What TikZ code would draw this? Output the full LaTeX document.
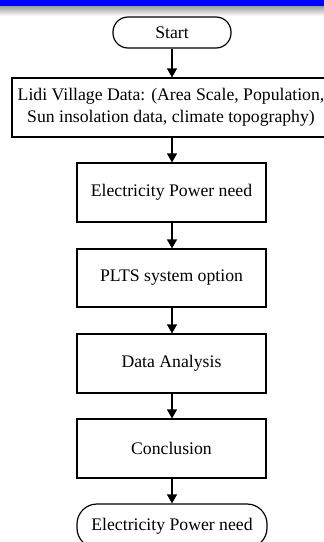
\documentclass[tikz,border=0pt]{standalone}
\usepackage{fontspec}
\setmainfont{Liberation Serif}
\usetikzlibrary{arrows.meta}
\begin{document}
\begin{tikzpicture}[x=1pt,y=1pt,
  box/.style={draw, line width=1.2pt, align=center, inner sep=0pt,
    font=\fontsize{17.7}{22}\selectfont},
  term/.style={box, rounded corners=15pt},
  flow/.style={line width=1.2pt, -{Triangle[length=9pt,width=10pt]}}]
\useasboundingbox (0,0) rectangle (324,-542);
\clip (0,0) rectangle (324,-542);
\fill[blue] (0,0) rectangle (324,-6);
\shade[top color=black!38, bottom color=white] (0,-6) rectangle (324,-16);
\node[term, minimum width=118pt, minimum height=31pt] (start) at (172,-32.5) {Start};
\node[box, minimum width=318pt, minimum height=59pt] (lidi) at (171,-107.5)
  {Lidi Village Data: (Area Scale, Population,\\Sun insolation data, climate topography)};
\node[box, minimum width=189pt, minimum height=59pt] (elec) at (171.5,-192.5) {Electricity Power need};
\node[box, minimum width=189pt, minimum height=58pt] (plts) at (171.5,-278) {PLTS system option};
\node[box, minimum width=189pt, minimum height=59pt] (data) at (171.5,-363.5) {Data Analysis};
\node[box, minimum width=189pt, minimum height=59pt] (concl) at (171.5,-448.5) {Conclusion};
\node[box, rounded corners=20pt, minimum width=190pt, minimum height=44pt] (final) at (172,-526) {Electricity Power need};
\draw[flow] (start.south -| 172,0) -- (lidi.north -| 172,0);
\draw[flow] (lidi.south -| 172,0) -- (elec.north -| 172,0);
\draw[flow] (elec.south -| 172,0) -- (plts.north -| 172,0);
\draw[flow] (plts.south -| 172,0) -- (data.north -| 172,0);
\draw[flow] (data.south -| 172,0) -- (concl.north -| 172,0);
\draw[flow] (concl.south -| 172,0) -- (final.north -| 172,0);
\end{tikzpicture}
\end{document}
